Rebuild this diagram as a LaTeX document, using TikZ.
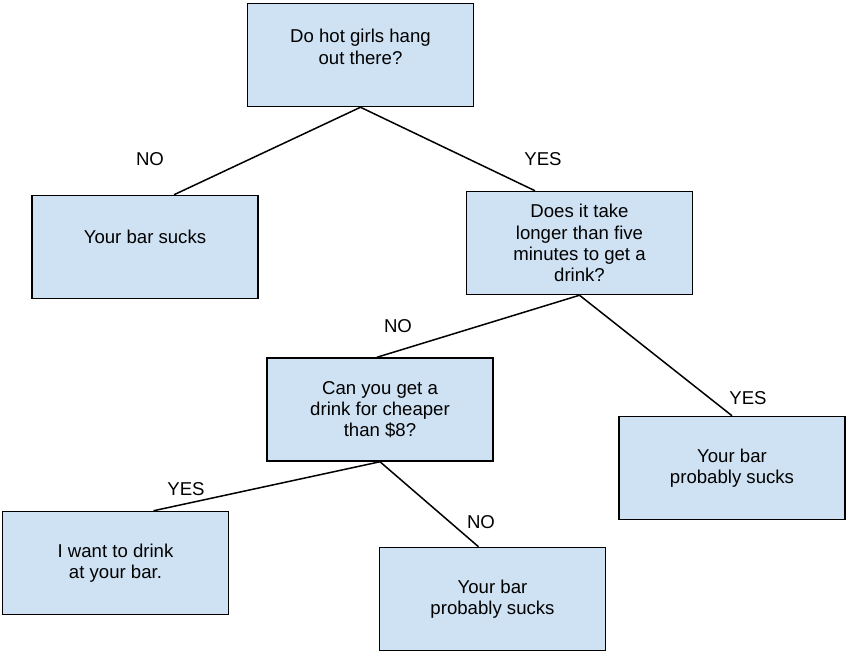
\documentclass[tikz,border=0pt]{standalone}
\usepackage{fontspec}
\setmainfont{Liberation Sans}
\usepackage{tikz}
\definecolor{boxcolor}{RGB}{207, 226, 243}

\begin{document}
\begin{tikzpicture}[
    x=1pt, y=-1pt,
    box/.style={rectangle, draw, line width=1.5pt, fill=boxcolor, minimum width=226pt, minimum height=103pt, inner sep=0pt, align=center, font=\fontsize{18.6}{21.3}\selectfont},
    answer/.style={font=\fontsize{18.6}{21.3}\selectfont},
    branch/.style={line width=1.5pt}
]
    \useasboundingbox (0, 0) rectangle (847, 653);

    \node[box] (hot) at (360.5, 55) {Do hot girls hang\\out there?\\[-5pt]\mbox{}};
    \node[box] (sucks) at (145, 247) {Your bar sucks\\[-1pt]\mbox{}};
    \node[box] (wait) at (579.5, 243) {Does it take\\longer than five\\minutes to get a\\drink?};
    \node[box] (cheap) at (380, 409.5) {Can you get a\\drink for cheaper\\than \$8?};
    \node[box] (prob1) at (732, 468) {Your bar\\probably sucks};
    \node[box] (drink) at (115.5, 563) {I want to drink\\at your bar.};
    \node[box] (prob2) at (492.5, 599) {Your bar\\probably sucks};

    \draw[branch] (hot.south) -- ([xshift=29pt]sucks.north);
    \draw[branch] (hot.south) -- ([xshift=-44.5pt]wait.north);
    \draw[branch] (wait.south) -- ([xshift=-3pt]cheap.north);
    \draw[branch] (wait.south) -- (prob1.north);
    \draw[branch] (cheap.south) -- ([xshift=38pt]drink.north);
    \draw[branch] (cheap.south) -- ([xshift=-14pt]prob2.north);

    \node[answer] (no1) at (150, 159) {NO};
    \node[answer] (yes1) at (543, 159) {YES};
    \node[answer] (no2) at (398, 326) {NO};
    \node[answer] (yes2) at (748, 398) {YES};
    \node[answer] (yes3) at (186, 489) {YES};
    \node[answer] (no3) at (481, 522) {NO};
\end{tikzpicture}
\end{document}
